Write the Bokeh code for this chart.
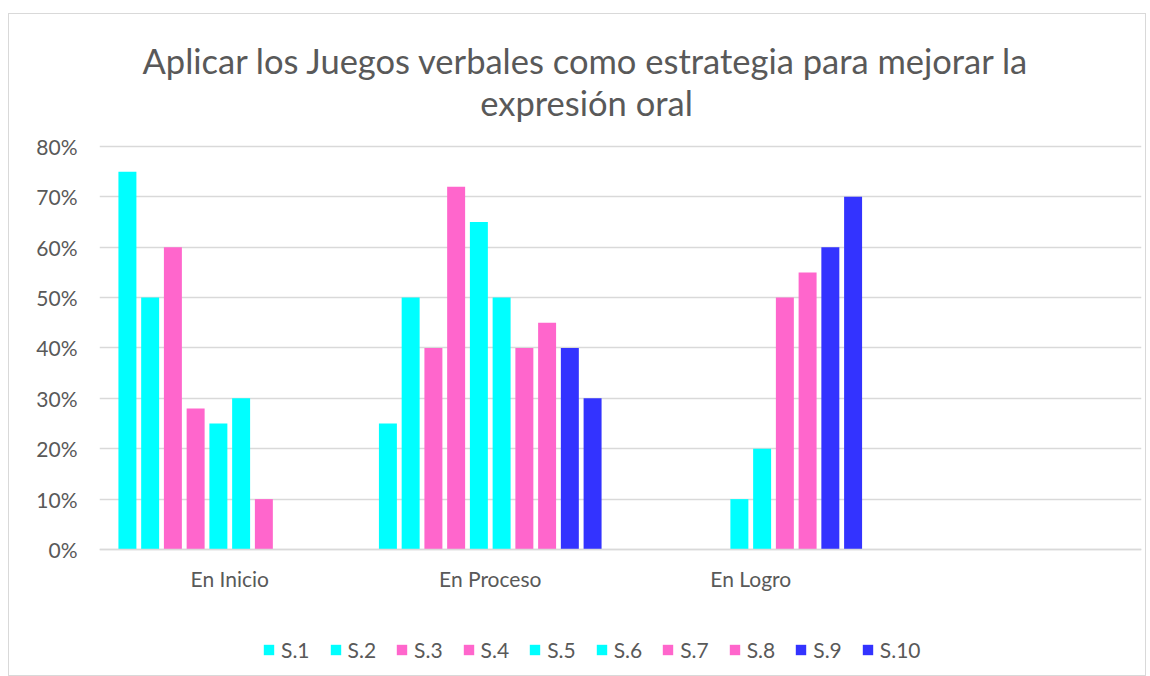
from bokeh.plotting import figure
from bokeh.models import (ColumnDataSource, Range1d, FixedTicker, NumeralTickFormatter,
                          Legend, LegendItem, Label)
from bokeh.transform import dodge
from bokeh.embed import file_html
from bokeh.resources import INLINE

categories = ["En Inicio", "En Proceso", "En Logro", ""]
series = ["S.1", "S.2", "S.3", "S.4", "S.5", "S.6", "S.7", "S.8", "S.9", "S.10"]
s1 = [0.75, 0.25, 0.00, 0.0]
s2 = [0.50, 0.50, 0.00, 0.0]
s3 = [0.60, 0.40, 0.00, 0.0]
s4 = [0.28, 0.72, 0.00, 0.0]
s5 = [0.25, 0.65, 0.10, 0.0]
s6 = [0.30, 0.50, 0.20, 0.0]
s7 = [0.10, 0.40, 0.50, 0.0]
s8 = [0.00, 0.45, 0.55, 0.0]
s9 = [0.00, 0.40, 0.60, 0.0]
s10 = [0.00, 0.30, 0.70, 0.0]
values = [s1, s2, s3, s4, s5, s6, s7, s8, s9, s10]
colors = ["#00FFFF", "#00FFFF", "#FF66CC", "#FF66CC", "#00FFFF",
          "#00FFFF", "#FF66CC", "#FF66CC", "#3333FF", "#3333FF"]

FONT = "Lato"
TXT = "#595959"
GRID = "#d9d9d9"

xpos = [i + 0.5 for i in range(len(categories))]
data = {"x": xpos}
for name, vals in zip(series, values):
    data[name] = vals
src = ColumnDataSource(data)

p = figure(width=1138, height=663, output_backend="svg", toolbar_location=None,
           title=None,
           x_range=Range1d(0, 4), y_range=Range1d(-0.2541, 1.0620),
           min_border_left=90, min_border_right=6, min_border_top=0, min_border_bottom=0,
           background_fill_color="white", border_fill_color="white",
           margin=(13, 0, 0, 8))
p.styles = {"border": "1px solid #d9d9d9"}
p.outline_line_color = None

step = 0.0873
renderers = []
for i, (name, col) in enumerate(zip(series, colors)):
    off = (i - 4.5) * step
    r = p.vbar(x=dodge("x", off, range=p.x_range), top=name, width=0.069, bottom=0,
               source=src, fill_color=col, line_color=None)
    renderers.append(r)

# axes
p.xaxis.fixed_location = 0
p.xaxis.ticker = FixedTicker(ticks=xpos)
p.xaxis.major_label_overrides = {x: c for x, c in zip(xpos, categories)}
p.xaxis.axis_line_color = GRID
p.xaxis.axis_line_width = 1.5
p.xaxis.major_tick_line_color = None
p.xaxis.minor_tick_line_color = None
p.xaxis.major_tick_out = 0
p.xaxis.major_label_standoff = 17
p.xaxis.major_label_text_font = FONT
p.xaxis.major_label_text_font_size = "21px"
p.xaxis.major_label_text_color = TXT

p.yaxis.ticker = FixedTicker(ticks=[i / 10 for i in range(9)])
p.yaxis.formatter = NumeralTickFormatter(format="0%")
p.yaxis.axis_line_color = None
p.yaxis.major_tick_line_color = None
p.yaxis.minor_tick_line_color = None
p.yaxis.major_tick_out = 0
p.yaxis.major_label_standoff = 22
p.yaxis.major_label_text_font = FONT
p.yaxis.major_label_text_font_size = "21px"
p.yaxis.major_label_text_color = TXT

p.xgrid.grid_line_color = None
p.ygrid.grid_line_color = GRID
p.ygrid.grid_line_width = 1.5

# title
title1 = "Aplicar los Juegos verbales como estrategia para mejorar la"
title2 = "expresión oral"
for txt, yy in [(title1, 0.9707), (title2, 0.8874)]:
    p.add_layout(Label(x=1.8695, y=yy, text=txt, text_align="center", text_baseline="middle",
                       text_font=FONT, text_font_size="34.5px", text_color=TXT))

legend = Legend(items=[LegendItem(label=n, renderers=[r]) for n, r in zip(series, renderers)],
                orientation="horizontal", location=(163, 15), margin=0,
                glyph_width=13, glyph_height=13, label_standoff=6, spacing=19, padding=0,
                label_text_font=FONT, label_text_font_size="21px", label_text_color=TXT,
                border_line_color=None, background_fill_alpha=0)
p.add_layout(legend, "center")

open("out.html", "w").write(file_html(p, INLINE))
